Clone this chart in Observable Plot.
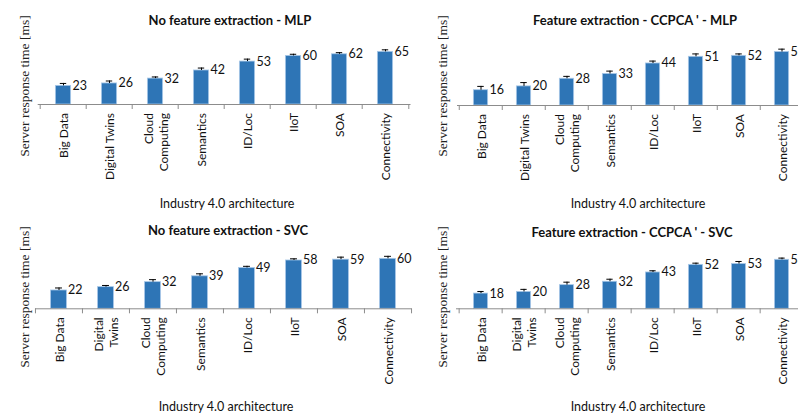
<!DOCTYPE html>
<html>
<head>
<meta charset="utf-8">
<script src="https://cdn.jsdelivr.net/npm/d3@7"></script>
<script src="https://cdn.jsdelivr.net/npm/@observablehq/plot@0.6"></script>
<style>
  html, body { margin: 0; padding: 0; background: #fff; }
  #wrap { position: relative; width: 798px; height: 414px; overflow: hidden; background: #fff; font-family: Lato, sans-serif; }
  .panel { position: absolute; }
  .lbl { position: absolute; white-space: nowrap; transform: translate(-50%, -50%); color: #111; }
  .title { font-weight: bold; font-size: 13px; }
  .xt { font-size: 12.5px; }
  .yt { font-family: "Liberation Serif", serif; font-size: 13.5px; transform: translate(-50%, -50%) rotate(-90deg); color: #222; }
</style>
</head>
<body>
<div id="wrap"></div>
<script>
// ---- data ----
const categories = ["Big Data", "Digital Twins", "Cloud Computing", "Semantics", "ID/Loc", "IIoT", "SOA", "Connectivity"];
const tickLabelsTop = ["Big Data", "Digital Twins", "Cloud\nComputing", "Semantics", "ID/Loc", "IIoT", "SOA", "Connectivity"];
const tickLabelsBottom = ["Big Data", "Digital\nTwins", "Cloud\nComputing", "Semantics", "ID/Loc", "IIoT", "SOA", "Connectivity"];

const mlpNoFE = [23, 26, 32, 42, 53, 60, 62, 65];
const mlpNoFEErr = [3, 3, 2, 3, 3, 2, 2, 2.5];
const mlpFE = [16, 20, 28, 33, 44, 51, 52, 56];
const mlpFEErr = [4, 4, 2.5, 3, 2.5, 3, 2, 3];
const svcNoFE = [22, 26, 32, 39, 49, 58, 59, 60];
const svcNoFEErr = [3, 2, 3, 3, 2, 2, 3, 3];
const svcFE = [18, 20, 28, 32, 43, 52, 53, 58];
const svcFEErr = [2.5, 3, 3.5, 3, 2, 2, 3, 2];

const titles = ["No feature extraction - MLP", "Feature extraction - CCPCA ' - MLP", "No feature extraction - SVC", "Feature extraction - CCPCA ' - SVC"];
const yTitle = "Server response time [ms]";
const xTitle = "Industry 4.0 architecture";

// ---- layout ----
const panels = [
  {values: mlpNoFE, errors: mlpNoFEErr, labels: tickLabelsTop, title: titles[0],
   left: 0, top: 0, width: 420, height: 210, ml: 37.7, mr: 9.5, base: 104, scale: 0.81, ymax: 80,
   titlePos: [230, 20], yPos: [25, 86], xPos: [227, 203]},
  {values: mlpFE, errors: mlpFEErr, labels: tickLabelsTop, title: titles[1],
   left: 400, top: 0, width: 420, height: 210, ml: 57, mr: 15, base: 105, scale: 0.955, ymax: 70,
   titlePos: [635, 20], yPos: [443, 86], xPos: [638, 203]},
  {values: svcNoFE, errors: svcNoFEErr, labels: tickLabelsBottom, title: titles[2],
   left: 0, top: 210, width: 420, height: 204, ml: 35, mr: 8.4, base: 98.3, scale: 0.833, ymax: 70,
   titlePos: [228, 230], yPos: [25, 297], xPos: [226, 406]},
  {values: svcFE, errors: svcFEErr, labels: tickLabelsBottom, title: titles[3],
   left: 400, top: 210, width: 420, height: 204, ml: 56, mr: 14.4, base: 98.3, scale: 0.845, ymax: 70,
   titlePos: [632, 232], yPos: [443, 297], xPos: [638, 406]}
];

const wrap = document.getElementById("wrap");

function addLabel(text, cls, pos) {
  const d = document.createElement("div");
  d.className = "lbl " + cls;
  d.textContent = text;
  d.style.left = pos[0] + "px";
  d.style.top = pos[1] + "px";
  wrap.appendChild(d);
}

for (const p of panels) {
  const data = categories.map((c, i) => ({cat: c, v: p.values[i], e: p.errors[i], label: p.labels[i]}));
  const step = (p.width - p.ml - p.mr) / categories.length;
  const inset = step * 0.33;
  const mt = p.base - p.ymax * p.scale;
  const gray = "#8c8c8c";
  const chart = Plot.plot({
    width: p.width,
    height: p.height,
    marginLeft: p.ml,
    marginRight: p.mr,
    marginTop: mt,
    marginBottom: p.height - p.base,
    style: {fontFamily: "Lato, sans-serif", background: "transparent", overflow: "visible", maxWidth: "none"},
    x: {domain: categories, padding: 0, label: null},
    y: {domain: [0, p.ymax], axis: null, label: null},
    marks: [
      Plot.barY(data, {x: "cat", y: "v", fill: "#2e75b6", stroke: "#a8c8e8", strokeWidth: 0.8, insetLeft: inset, insetRight: inset}),
      Plot.ruleY([0], {stroke: gray}),
      Plot.axisX({tickSize: 5, text: null, label: null, stroke: gray, dx: -step / 2}),
      Plot.axisX([categories[categories.length - 1]], {tickSize: 5, text: null, label: null, stroke: gray, dx: step / 2}),
      Plot.ruleX(data, {x: "cat", y1: "v", y2: d => d.v + d.e, stroke: "#000", strokeWidth: 1}),
      Plot.tickY(data, {x: "cat", y: d => d.v + d.e, stroke: "#000", strokeWidth: 1, insetLeft: step / 2 - 3.5, insetRight: step / 2 - 3.5}),
      Plot.text(data, {x: "cat", y: "v", text: d => String(d.v), dx: step / 2 - inset + 1, textAnchor: "start", lineAnchor: "middle", fontSize: 12.5, fill: "#111"}),
      Plot.text(data, {x: "cat", y: () => 0, text: "label", rotate: -90, textAnchor: "end", lineAnchor: "middle", dy: 8.5, fontSize: 12, lineHeight: 1.25, fill: "#111"})
    ]
  });
  const div = document.createElement("div");
  div.className = "panel";
  div.style.left = p.left + "px";
  div.style.top = p.top + "px";
  div.style.width = p.width + "px";
  div.style.height = p.height + "px";
  div.appendChild(chart);
  wrap.appendChild(div);
  addLabel(p.title, "title", p.titlePos);
  addLabel(yTitle, "yt", p.yPos);
  addLabel(xTitle, "xt", p.xPos);
}
</script>
</body>
</html>
